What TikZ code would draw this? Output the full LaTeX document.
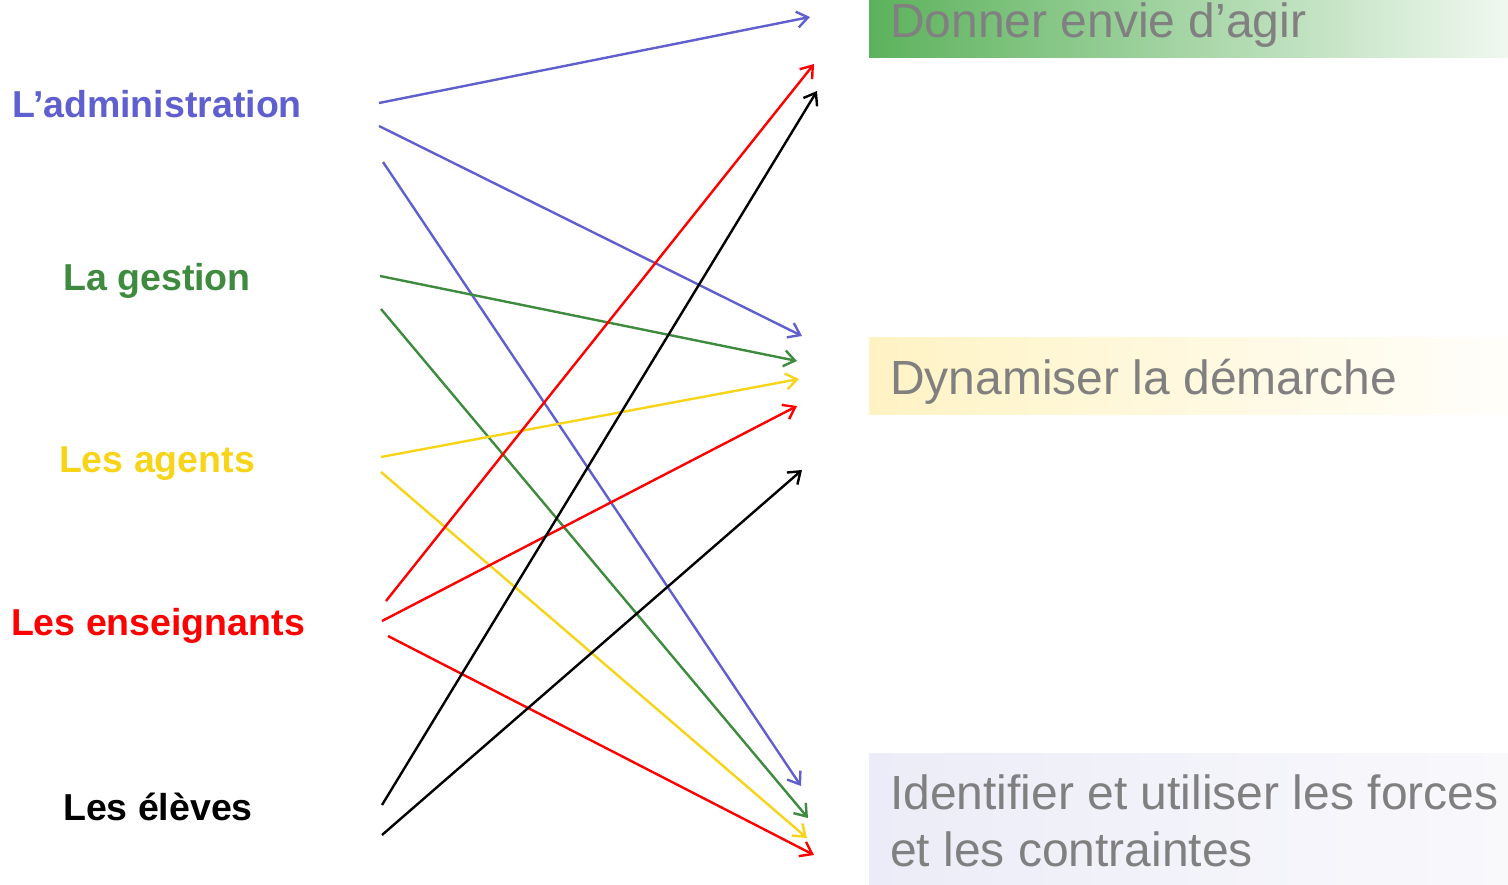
\documentclass[tikz,border=0pt]{standalone}
\usepackage{fontspec}
\setmainfont{Liberation Sans}
\usetikzlibrary{arrows.meta}
\definecolor{cadm}{HTML}{5F5FCF}
\definecolor{cges}{HTML}{3E8A3E}
\definecolor{cage}{HTML}{F7D417}
\definecolor{cens}{HTML}{FF0000}
\definecolor{cele}{HTML}{000000}
\definecolor{gtext}{HTML}{808080}
\begin{document}
\begin{tikzpicture}[x=1pt,y=-1pt,
  lab/.style={font=\fontsize{37.5}{44}\selectfont\bfseries, anchor=base, inner sep=0pt},
  goal/.style={font=\fontsize{48}{55}\selectfont, text=gtext, anchor=base west, inner sep=0pt},
  link/.style={line width=2.4pt, -{Straight Barb[length=11pt,width=16pt,line width=2.4pt]}},
  pt/.style={coordinate}]
\useasboundingbox (0,0) rectangle (1508,885);
% goal boxes
\shade[left color={rgb,255:red,92;green,178;blue,92}, right color={rgb,255:red,240;green,248;blue,240}] (869,0) rectangle (1508,58);
\shade[left color={rgb,255:red,255;green,243;blue,196}, right color={rgb,255:red,255;green,254;blue,250}] (869,338) rectangle (1508,414);
\shade[left color={rgb,255:red,236;green,236;blue,248}, right color={rgb,255:red,249;green,249;blue,252}] (869,753) rectangle (1508,885);
\node[goal] (g1) at (890,38) {Donner envie d’agir};
\node[goal] (g2) at (890,395) {Dynamiser la démarche};
\node[goal] (g3a) at (890,809) {Identifier et utiliser les forces};
\node[goal] (g3b) at (890,866) {et les contraintes};
% labels
\node[lab, text=cadm] (adm) at (157,118) {L’administration};
\node[lab, text=cges] (ges) at (157,291) {La gestion};
\node[lab, text=cage] (age) at (157,472) {Les agents};
\node[lab, text=cens] (ens) at (158,635) {Les enseignants};
\node[lab, text=cele] (ele) at (158,820) {Les élèves};
% start points
\node[pt] (a1) at (379,103) {};
\node[pt] (a2) at (379,126) {};
\node[pt] (a3) at (383,162) {};
\node[pt] (b1) at (380,276) {};
\node[pt] (b2) at (381,309) {};
\node[pt] (c1) at (381,457) {};
\node[pt] (c2) at (381,472) {};
\node[pt] (d1) at (386,601) {};
\node[pt] (d2) at (382,621) {};
\node[pt] (d3) at (388,636) {};
\node[pt] (e1) at (382,805) {};
\node[pt] (e2) at (382,835) {};
% end points
\node[pt] (ta1) at (810,17) {};
\node[pt] (ta2) at (802,336) {};
\node[pt] (ta3) at (801,786) {};
\node[pt] (tb1) at (797,361) {};
\node[pt] (tb2) at (808,818) {};
\node[pt] (tc1) at (799,379) {};
\node[pt] (tc2) at (807,838) {};
\node[pt] (td1) at (814,64) {};
\node[pt] (td2) at (797,406) {};
\node[pt] (td3) at (814,855) {};
\node[pt] (te1) at (817,91) {};
\node[pt] (te2) at (802,470) {};
% connectors
\draw[link, cadm] (a1) -- (ta1);
\draw[link, cadm] (a2) -- (ta2);
\draw[link, cadm] (a3) -- (ta3);
\draw[link, cges] (b1) -- (tb1);
\draw[link, cges] (b2) -- (tb2);
\draw[link, cage] (c1) -- (tc1);
\draw[link, cage] (c2) -- (tc2);
\draw[link, cens] (d1) -- (td1);
\draw[link, cens] (d2) -- (td2);
\draw[link, cens] (d3) -- (td3);
\draw[link, cele] (e1) -- (te1);
\draw[link, cele] (e2) -- (te2);
\end{tikzpicture}
\end{document}
